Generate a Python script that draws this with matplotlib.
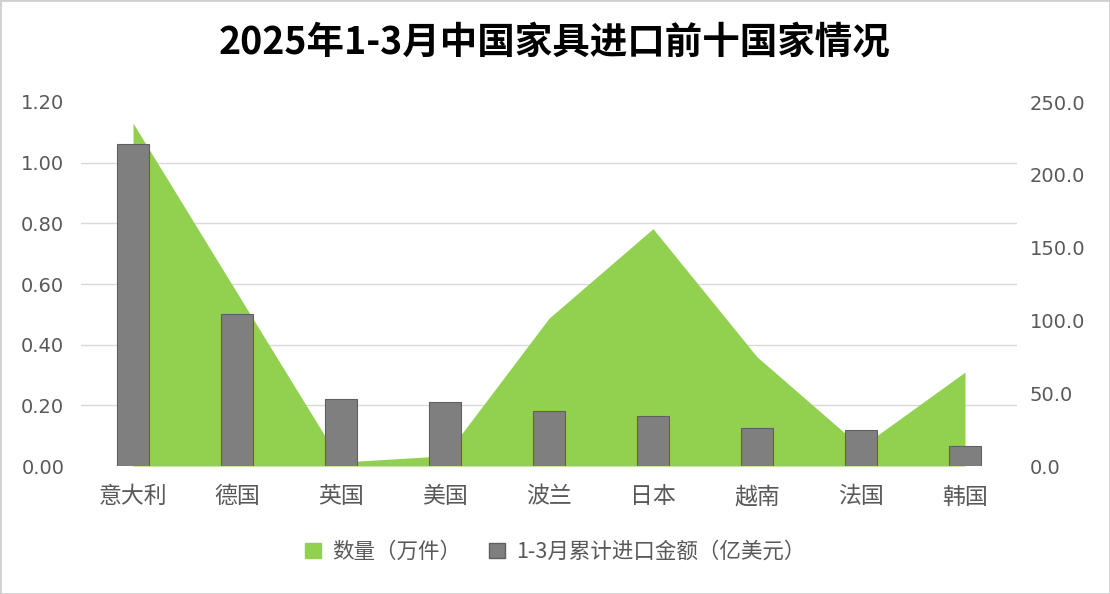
import numpy as np
import matplotlib.pyplot as plt
from matplotlib.patches import Patch, Rectangle

plt.rcParams['font.family'] = ['Noto Sans CJK SC', 'DejaVu Sans']

# data
countries = ['意大利', '德国', '英国', '美国', '波兰', '日本', '越南', '法国', '韩国']
quantity = [235.5, 119.0, 2.7, 7.0, 101.5, 163.0, 75.0, 13.0, 64.5]      # 万件, right axis
amount = [1.06, 0.50, 0.22, 0.21, 0.18, 0.165, 0.125, 0.12, 0.066]      # 亿美元, left axis
left_ticks = [0.0, 0.2, 0.4, 0.6, 0.8, 1.0, 1.2]
right_ticks = [0, 50, 100, 150, 200, 250]

green = '#92d050'
grey = '#7f7f7f'
label_col = '#595959'
grid_col = '#d9d9d9'

fig = plt.figure(figsize=(11.1, 5.94), dpi=100)
fig.patches.append(Rectangle((0, 0), 1, 1, transform=fig.transFigure,
                             fill=False, edgecolor='#d0d0d0', lw=2))

ax1 = fig.add_axes([81 / 1110, 1 - 466 / 594, 936 / 1110, 364 / 594])
ax2 = ax1.twinx()
ax1.set_zorder(ax2.get_zorder() + 1)
ax1.patch.set_visible(False)

x = np.arange(len(countries))

# area for quantity, grid lines under it
ax2.fill_between(x, quantity, 0, color=green, lw=0, zorder=2)
ax2.set_ylim(0, 250)
ax2.set_yticks(right_ticks)
ax2.set_yticklabels([f'{v:.1f}' for v in right_ticks], family=['DejaVu Sans'])
ax2.set_yticks(np.array(left_ticks) / 1.2 * 250, minor=True)
ax2.grid(which='minor', axis='y', color=grid_col, lw=1, zorder=0)
ax2.set_axisbelow(True)

# bars for amount
ax1.bar(x, amount, width=0.3, color=grey, edgecolor='#606060', lw=0.8, zorder=3)
ax1.set_ylim(0, 1.2)
ax1.set_xlim(-0.5, len(countries) - 0.5)
ax1.set_yticks(left_ticks)
ax1.set_yticklabels([f'{v:.2f}' for v in left_ticks], family=['DejaVu Sans'])
ax1.set_xticks(x)
ax1.set_xticklabels(countries)

for a in (ax1, ax2):
    for s in a.spines.values():
        s.set_visible(False)
    a.tick_params(which='both', length=0, colors=label_col, labelsize=14)
ax1.tick_params(axis='y', pad=12)
ax2.tick_params(axis='y', pad=9)
ax1.tick_params(axis='x', labelsize=16.5, pad=14)

fig.suptitle('2025年1-3月中国家具进口前十国家情况', x=0.5, y=0.962,
             fontsize=27, fontweight='bold', color='black')

handles = [Patch(color=green), Patch(facecolor=grey, edgecolor='#606060')]
fig.legend(handles, ['数量（万件）', '1-3月累计进口金额（亿美元）'],
           loc='center', bbox_to_anchor=(0.5, 1 - 552 / 594), ncol=2,
           frameon=False, fontsize=15.5, labelcolor=label_col,
           handlelength=0.75, handleheight=0.75, handletextpad=0.5, columnspacing=1.3)

fig.savefig('out.png', dpi=100, facecolor='white')
